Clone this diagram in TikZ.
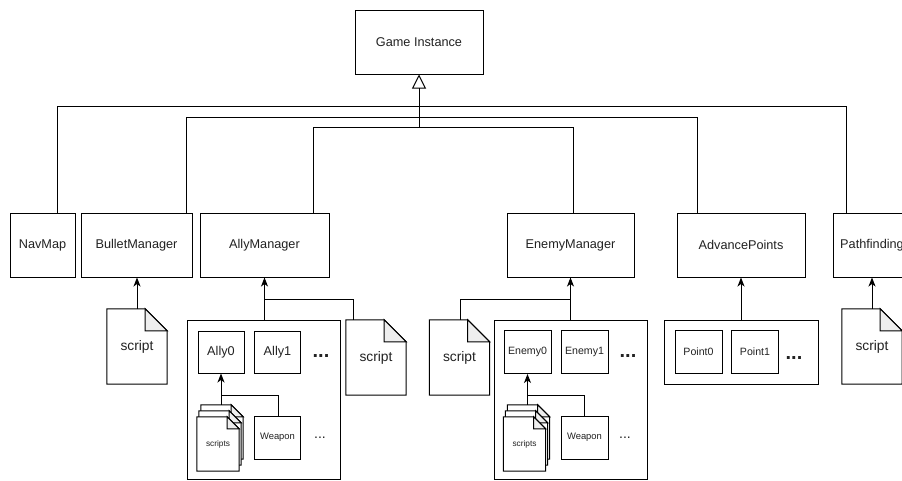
\documentclass[tikz,border=0pt]{standalone}
\usepackage{fontspec}
\setmainfont{Liberation Sans}
\usetikzlibrary{arrows.meta,calc,backgrounds}
\definecolor{foldgray}{HTML}{EEEEEE}
\definecolor{txt}{HTML}{222222}
\newcommand\mydoc[3]{%
  \draw[docline,fill=white] ($(#1.north west)+#3$) -- ($(#1.north east)+#3+(-#2,0)$) -- ($(#1.north east)+#3+(0,-#2)$) -- ($(#1.south east)+#3$) -- ($(#1.south west)+#3$) -- cycle;
  \draw[docline,fill=foldgray] ($(#1.north east)+#3+(-#2,0)$) -- ($(#1.north east)+#3+(-#2,-#2)$) -- ($(#1.north east)+#3+(0,-#2)$) -- cycle;
}
\begin{document}
\begin{tikzpicture}[x=1pt,y=-1pt,
  line/.style={line width=1pt,draw=black},
  docline/.style={line width=1pt,draw=black,line join=miter},
  arr/.style={line width=1pt,-{Stealth[length=9pt,width=7pt,inset=2.5pt]}},
  tri/.style={line width=1pt,-{Triangle[open,length=14pt,width=14pt]}},
  box/.style={draw,line width=1pt,inner sep=0pt,align=center,text=txt,font=\fontsize{12.7}{15}\selectfont,minimum height=64pt},
  sbox/.style={draw,line width=1pt,inner sep=0pt,align=center,text=txt,minimum width=47pt,minimum height=43pt},
  container/.style={draw,line width=1pt,inner sep=0pt},
  docnode/.style={inner sep=0pt,text=txt,minimum width=60pt,minimum height=75pt,font=\fontsize{13.8}{16}\selectfont},
  stacknode/.style={inner sep=0pt,text=txt,minimum width=42pt,minimum height=54pt,font=\fontsize{8.3}{10}\selectfont},
  bigdots/.style={inner sep=0pt,anchor=base,text=txt,font=\fontsize{20}{24}\selectfont\bfseries},
  smalldots/.style={inner sep=0pt,anchor=base,text=txt,font=\fontsize{14}{16}\selectfont},
]
\useasboundingbox (0,0) rectangle (902,480);
\clip (0,0) rectangle (902,480);

% top
\node[box,minimum width=128pt] (gi) at (419,42) {Game Instance};

% first row
\node[box,minimum width=65pt] (navmap) at (42.5,245) {NavMap};
\node[box,minimum width=111pt] (bullet) at (136.5,245) {BulletManager};
\node[box,minimum width=129pt] (ally) at (264.5,245) {AllyManager};
\node[box,minimum width=127pt] (enemy) at (570.5,245) {EnemyManager};
\node[box,minimum width=128pt] (adv) at (741,245) {AdvancePoints};
\node[box,minimum width=78pt] (path) at (872,245) {Pathfinding};

% inheritance lines
\coordinate (h1l) at (57,106);
\coordinate (h1r) at (846,106);
\coordinate (h2l) at (186,117);
\coordinate (h2r) at (697,117);
\coordinate (h3l) at (313,127);
\coordinate (h3r) at (573,127);
\coordinate (stem) at (419,127);
\draw[line] (navmap.north -| h1l) -- (h1l) -- (h1r) -- (path.north -| h1r);
\draw[line] (bullet.north -| h2l) -- (h2l) -- (h2r) -- (adv.north -| h2r);
\draw[line] (ally.north -| h3l) -- (h3l) -- (h3r) -- (enemy.north -| h3r);
\draw[tri] (stem) -- (gi.south);

% second row
\node[docnode] (bscript) at (137,346.5) {script};
\node[container,minimum width=153pt,minimum height=159pt] (allybox) at (263.5,399.5) {};
\node[docnode] (ascript) at (376,357.5) {script};
\node[docnode] (escript) at (459.5,357.5) {script};
\node[container,minimum width=153pt,minimum height=159pt] (enemybox) at (570.5,399.5) {};
\node[container,minimum width=154pt,minimum height=64pt] (advbox) at (741,352) {};
\node[docnode] (pscript) at (872,346.5) {script};

% ally contents
\node[sbox,minimum width=46pt,minimum height=42pt,font=\fontsize{12.7}{15}\selectfont] (ally0) at (221,352) {Ally0};
\node[sbox,minimum width=46pt,minimum height=42pt,font=\fontsize{12.7}{15}\selectfont] (ally1) at (277.5,352) {Ally1};
\node[bigdots] (adots) at (321,357.5) {...};
\node[stacknode] (ascripts) at (218,444) {scripts};
\node[sbox,minimum width=46pt,font=\fontsize{9.4}{11}\selectfont] (aweapon) at (277.5,437.5) {Weapon};
\node[smalldots] (asdots) at (320,438.5) {...};

% enemy contents
\node[sbox,font=\fontsize{10.6}{12}\selectfont] (enemy0) at (527.5,352) {Enemy0};
\node[sbox,font=\fontsize{10.6}{12}\selectfont] (enemy1) at (584.5,352) {Enemy1};
\node[bigdots] (edots) at (628,357.5) {...};
\node[stacknode] (escripts) at (524.5,444) {scripts};
\node[sbox,font=\fontsize{9.4}{11}\selectfont] (eweapon) at (584.5,437.5) {Weapon};
\node[smalldots] (esdots) at (625,438.5) {...};

% advance points contents
\node[sbox,font=\fontsize{10.6}{12}\selectfont] (point0) at (698.5,351.5) {Point0};
\node[sbox,font=\fontsize{10.6}{12}\selectfont] (point1) at (755,351.5) {Point1};
\node[bigdots] (pdots) at (794,359.5) {...};

% document outlines (behind text)
\begin{pgfonlayer}{background}
\fill[white] (0,0) rectangle (902,480);
\mydoc{bscript}{22pt}{(0,0)}
\mydoc{ascript}{22pt}{(0,0)}
\mydoc{escript}{22pt}{(0,0)}
\mydoc{pscript}{22pt}{(0,0)}
\mydoc{ascripts}{12pt}{(4pt,12pt)}
\mydoc{ascripts}{12pt}{(2pt,6pt)}
\mydoc{ascripts}{12pt}{(0,0)}
\mydoc{escripts}{12pt}{(4pt,12pt)}
\mydoc{escripts}{12pt}{(2pt,6pt)}
\mydoc{escripts}{12pt}{(0,0)}
\end{pgfonlayer}

% arrows to first row
\draw[arr] (bscript.north) -- (bullet.south -| bscript.north);
\draw[arr] (allybox.north -| ally.south) -- (ally.south);
\draw[arr] (enemybox.north -| enemy.south) -- (enemy.south);
\draw[arr] (advbox.north) -- (adv.south);
\draw[arr] (pscript.north) -- (path.south);

\coordinate (ab) at (353,299);
\draw[line] (ascript.north -| ab) -- (ab) -- (ab -| ally.south);
\coordinate (eb) at (460,299);
\draw[line] (escript.north -| eb) -- (eb) -- (eb -| enemy.south);

% inner arrows
\coordinate (astop) at ($(ascripts.north)+(0,12pt)$);
\draw[arr] (ally0.south |- astop) -- (ally0.south);
\coordinate (awb) at (278,395);
\draw[line] (aweapon.north -| awb) -- (awb) -- (awb -| ally0.south);

\coordinate (estop) at ($(escripts.north)+(0,12pt)$);
\draw[arr] (enemy0.south |- estop) -- (enemy0.south);
\coordinate (ewb) at (584,395);
\draw[line] (eweapon.north -| ewb) -- (ewb) -- (ewb -| enemy0.south);
\end{tikzpicture}
\end{document}
